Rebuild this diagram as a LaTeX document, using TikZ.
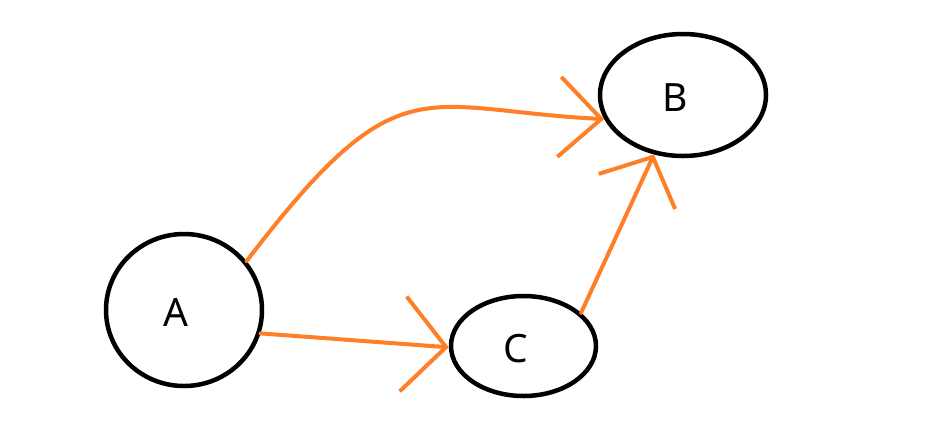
\documentclass[tikz,border=0pt]{standalone}
\usepackage{fontspec}
\setmainfont{Noto Sans}
\usetikzlibrary{arrows.meta,shapes.geometric}
\definecolor{paintorange}{RGB}{255,127,39}

\begin{document}
\begin{tikzpicture}[
  x=1pt, y=-1pt,
  state/.style={draw, ellipse, line width=4.5pt, inner sep=0pt},
  lbl/.style={font=\fontsize{39}{40}\selectfont, xshift=-8pt, yshift=-3pt},
  flow/.style={draw=paintorange, line width=4pt, line cap=round},
  head/.style 2 args={-{Straight Barb[length=#1, width=#2]}}
]
\useasboundingbox (0,0) rectangle (940,440);

\node[state, minimum width=156pt, minimum height=152pt, label={[lbl]center:A}] (A) at (184,310) {};
\node[state, minimum width=166pt, minimum height=122pt, label={[lbl]center:B}] (B) at (683,95) {};
\node[state, minimum width=145pt, minimum height=100pt, label={[lbl]center:C}] (C) at (523.5,346) {};

\draw[flow, head={42pt}{80pt}] (A.38) .. controls (400,60) and (420,110) .. (B.197.5);
\draw[flow, head={43pt}{95pt}] (A.-17) -- (C.181);
\draw[flow, head={38pt}{84pt}] (C.30) -- (B.244);
\end{tikzpicture}
\end{document}
